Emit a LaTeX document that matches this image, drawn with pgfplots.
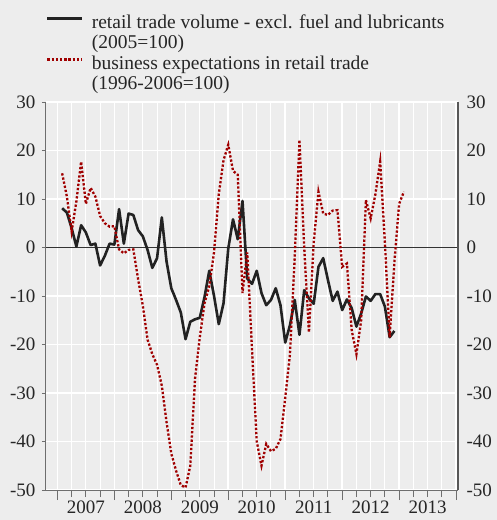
\documentclass[border=0pt]{standalone}
\usepackage{pgfplots}
\pgfplotsset{compat=1.18}
\usepackage{pgfplotstable}
\usepackage{fontspec}
\setmainfont{Liberation Serif}
\definecolor{bg}{HTML}{EDEDED}
\definecolor{dred}{HTML}{A00000}
\definecolor{axc}{HTML}{6E6E6E}
\definecolor{blk}{HTML}{222222}

\pgfplotstableread{
m v
1 8.1
2 7.2
3 4.0
4 0.2
5 4.6
6 3.1
7 0.5
8 0.8
9 -3.7
10 -1.7
11 0.8
12 0.6
13 7.9
14 0.8
15 7.0
16 6.7
17 3.6
18 2.3
19 -0.5
20 -4.2
21 -2.2
22 6.2
23 -2.9
24 -8.4
25 -10.8
26 -13.4
27 -18.9
28 -15.3
29 -14.8
30 -14.5
31 -10.2
32 -4.8
33 -10.0
34 -15.8
35 -11.5
36 -0.2
37 5.8
38 1.7
39 9.6
40 -6.4
41 -7.5
42 -4.8
43 -9.4
44 -11.9
45 -10.8
46 -8.4
47 -11.9
48 -19.6
49 -16.0
50 -10.8
51 -18.0
52 -8.8
53 -10.5
54 -11.6
55 -4.0
56 -2.2
57 -6.7
58 -11.0
59 -9.1
60 -12.9
61 -10.7
62 -12.5
63 -16.3
64 -13.6
65 -10.1
66 -11.0
67 -9.6
68 -9.6
69 -12.2
70 -18.5
71 -17.2
}\retail

\pgfplotstableread{
m v
1 15.3
2 10.5
3 3.3
4 9.5
5 17.7
6 9.0
7 12.3
8 10.5
9 6.5
10 5.0
11 4.3
12 4.4
13 -0.4
14 -1.2
15 -0.5
16 -0.4
17 -6.5
18 -12.0
19 -19.0
20 -22.0
21 -24.2
22 -28.5
23 -36.0
24 -42.5
25 -46.0
26 -49.0
27 -49.5
28 -45.0
29 -27.0
30 -18.5
31 -11.5
32 -8.0
33 -1.0
34 11.0
35 18.0
36 21.2
37 15.8
38 15.0
39 -9.4
40 -1.0
41 -21.0
42 -40.0
43 -45.0
44 -40.5
45 -42.0
46 -41.5
47 -39.5
48 -31.0
49 -22.0
50 -2.0
51 22.2
52 0.0
53 -17.5
54 1.0
55 11.5
56 7.0
57 6.7
58 7.6
59 7.7
60 -4.0
61 -3.3
62 -17.0
63 -22.0
64 -15.0
65 9.8
66 6.0
67 11.0
68 17.7
69 1.0
70 -18.5
71 -3.0
72 9.0
73 11.5
}\expect

\begin{document}
\begin{tikzpicture}
\fill[bg] (0,0) rectangle (497pt,520pt);
\begin{axis}[
  at={(46pt,30pt)}, anchor=south west,
  scale only axis, width=412pt, height=388pt,
  xmin=-2.4, xmax=84.4, ymin=-50, ymax=30,
  axis lines*=left,
  axis line style={axc, line width=1pt},
  xtick={0,12,...,84},
  xticklabels={},
  minor xtick={3,6,9,15,18,21,27,30,33,39,42,45,51,54,57,63,66,69,75,78,81},
  extra x ticks={6,18,30,42,54,66,78},
  extra x tick labels={2007,2008,2009,2010,2011,2012,2013},
  extra x tick style={grid=none, major tick length=0pt,
     xticklabel style={yshift=-7pt}},
  ytick={-50,-40,...,30},
  yticklabels={-50,-40,-30,-20,-10,0,10,20,30},
  tick align=outside,
  major tick length=10pt, minor tick length=7pt,
  ytick style={/pgfplots/major tick length=4pt},
  tick style={axc, line width=1pt},
  xmajorgrids, xminorgrids, ymajorgrids,
  major grid style={white, line width=1.6pt},
  minor grid style={white, line width=1pt},
  tick label style={font=\fontsize{19}{21}\selectfont, text=black!85},
  yticklabel style={xshift=3pt},
  legend style={at={(axis description cs:0,1.228)}, anchor=north west,
    draw=none, fill=none, inner sep=0pt, row sep=0pt,
    font=\fontsize{19.5}{21}\selectfont,
    nodes={inner sep=0pt, text height=14.5pt, text depth=6pt, text=black!85},
    /tikz/every odd column/.append style={column sep=8pt}},
  legend cell align=left,
  legend image code/.code={\draw[#1] (0pt,5.5pt) -- (35pt,5.5pt);},
]
\addplot[forget plot, draw=black!80, line width=1.5pt] coordinates {(-2.4,0) (84.4,0)};
\addplot[blk, line width=2.6pt, line join=round] table[x=m, y=v] {\retail};
\addlegendentry{retail trade volume - excl. fuel and lubricants}
\addlegendimage{empty legend}
\addlegendentry{(2005=100)}
\addplot[dred, line width=2.3pt, dash pattern=on 2.3pt off 1.9pt] table[x=m, y=v] {\expect};
\addlegendentry{business expectations in retail trade}
\addlegendimage{empty legend}
\addlegendentry{(1996-2006=100)}
\end{axis}
\begin{axis}[
  at={(46pt,30pt)}, anchor=south west,
  scale only axis, width=412pt, height=388pt,
  xmin=-2.4, xmax=84.4, ymin=-50, ymax=30,
  axis x line=none, axis y line*=right,
  axis line style={axc!80!black, line width=1.5pt},
  ytick={-50,-40,...,30},
  yticklabels={-50,-40,-30,-20,-10,0,10,20,30},
  major tick length=0pt,
  tick label style={font=\fontsize{19}{21}\selectfont, text=black!85},
  yticklabel style={xshift=5pt},
]
\end{axis}
\pgfresetboundingbox
\path (0,0) rectangle (497pt,520pt);
\end{tikzpicture}
\end{document}
